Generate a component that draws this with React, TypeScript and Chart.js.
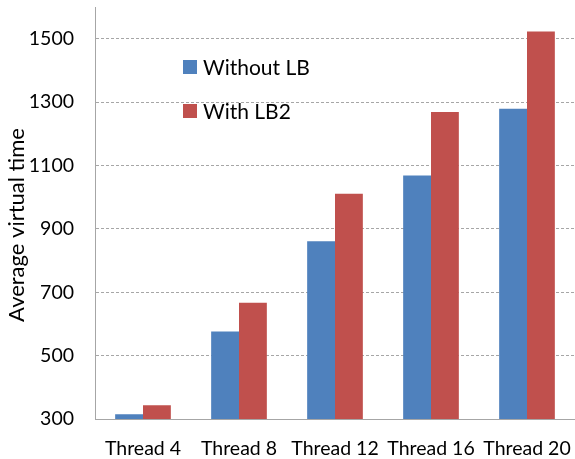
import React, { useEffect, useRef } from "react";
import { Chart, registerables } from "chart.js";

Chart.register(...registerables);

const categories = ["Thread 4", "Thread 8", "Thread 12", "Thread 16", "Thread 20"];
const withoutLB = [315, 576, 861, 1068, 1279];
const withLB2 = [343, 667, 1011, 1269, 1523];
const seriesLabels = ["Without LB", "With LB2"];
const seriesColors = ["#4F81BD", "#C0504D"];
const yTickValues = [300, 500, 700, 900, 1100, 1300, 1500];
const yTitle = "Average virtual time";

const FONT = "Lato, 'Open Sans', sans-serif";

const insideLegend = {
  id: "insideLegend",
  afterDraw(chart: any) {
    const { ctx, chartArea } = chart;
    ctx.save();
    ctx.font = `21px ${FONT}`;
    ctx.textBaseline = "middle";
    chart.data.datasets.forEach((ds: any, i: number) => {
      const x = chartArea.left + 88;
      const y = chartArea.top + 60 + i * 44;
      ctx.fillStyle = ds.backgroundColor;
      ctx.fillRect(x, y - 7, 14, 14);
      ctx.fillStyle = "#000";
      ctx.fillText(ds.label, x + 20, y + 1);
    });
    ctx.restore();
  },
};

const yAxisTitle = {
  id: "yAxisTitle",
  afterDraw(chart: any) {
    const { ctx, chartArea } = chart;
    ctx.save();
    ctx.font = `22px ${FONT}`;
    ctx.fillStyle = "#000";
    ctx.textAlign = "center";
    ctx.textBaseline = "middle";
    ctx.translate(17, (chartArea.top + chartArea.bottom) / 2 + 12);
    ctx.rotate(-Math.PI / 2);
    ctx.fillText(yTitle, 0, 0);
    ctx.restore();
  },
};

export default function App() {
  const ref = useRef<HTMLCanvasElement>(null);
  useEffect(() => {
    if (!ref.current) return;
    const chart = new Chart(ref.current, {
      type: "bar",
      data: {
        labels: categories,
        datasets: [
          { label: seriesLabels[0], data: withoutLB, backgroundColor: seriesColors[0] },
          { label: seriesLabels[1], data: withLB2, backgroundColor: seriesColors[1] },
        ],
      },
      options: {
        animation: false,
        responsive: true,
        maintainAspectRatio: false,
        layout: { padding: { top: 7, bottom: 0, right: 0, left: 0 } },
        datasets: { bar: { barPercentage: 1, categoryPercentage: 0.58 } },
        plugins: { legend: { display: false }, tooltip: { enabled: false } },
        scales: {
          x: {
            afterFit: (scale: any) => {
              scale.paddingLeft = 0;
              scale.paddingRight = 0;
              scale.height = 40;
            },
            grid: { display: false, drawTicks: false },
            border: { display: true, color: "#A6A6A6", width: 1 },
            ticks: { color: "#000", font: { family: FONT, size: 19.5 }, padding: 18, maxRotation: 0 },
          },
          y: {
            min: 300,
            max: 1600,
            afterBuildTicks: (scale: any) => {
              scale.ticks = yTickValues.map((v) => ({ value: v }));
            },
            afterFit: (scale: any) => {
              scale.paddingTop = 0;
              scale.paddingBottom = 0;
              scale.width = 95;
            },
            grid: { color: "#A6A6A6", drawTicks: false, lineWidth: 1 },
            border: { display: true, color: "#A6A6A6", width: 1, dash: [3, 2] },
            ticks: {
              color: "#000",
              font: { family: FONT, size: 19.5 },
              padding: 21,
              callback: (v: any) => String(v),
            },
          },
        },
      },
      plugins: [insideLegend, yAxisTitle],
    });
    return () => chart.destroy();
  }, []);
  return (
    <div style={{ position: "fixed", left: 0, top: 0, width: 575, height: 459, background: "#fff" }}>
      <canvas ref={ref} />
    </div>
  );
}
